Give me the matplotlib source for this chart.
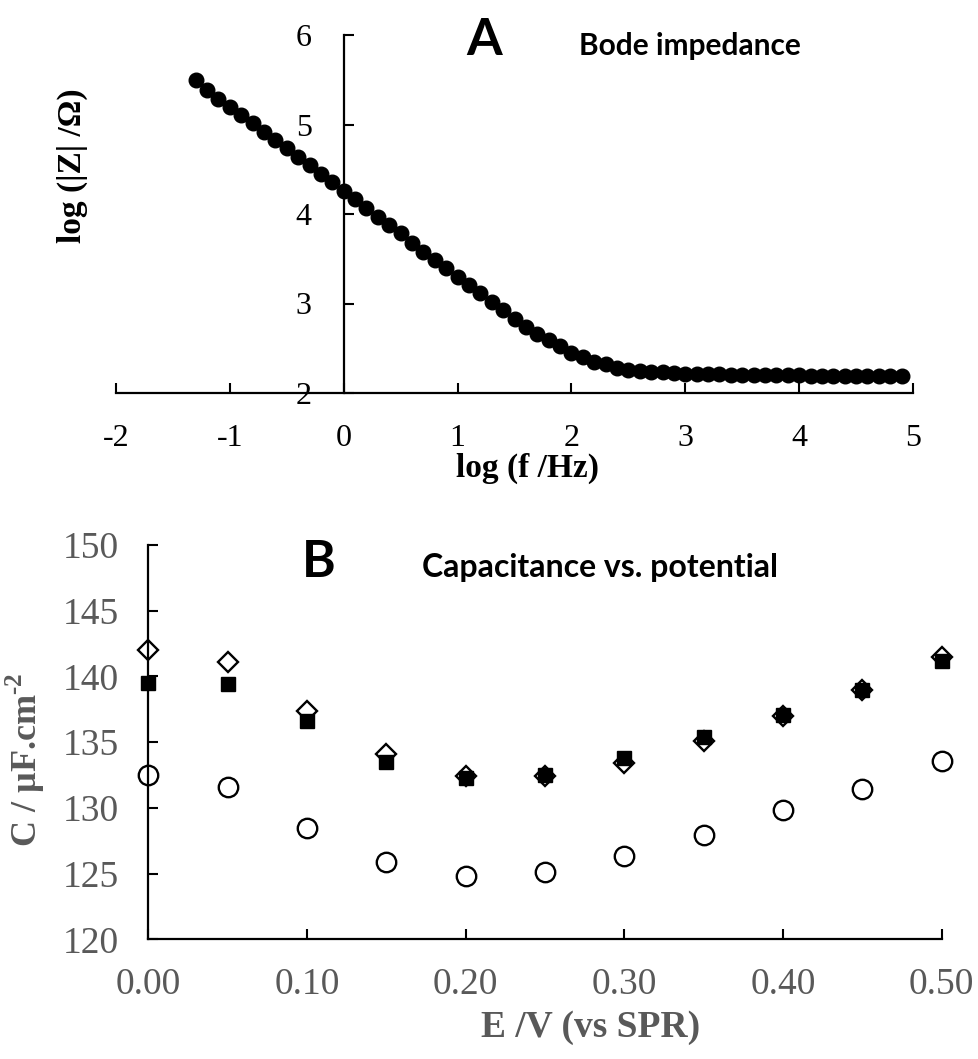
import numpy as np
import matplotlib
matplotlib.use("Agg")
import matplotlib.pyplot as plt

SERIF = "Liberation Serif"
SANS = "Lato"
GREY = "#595959"

# --- panel A: Bode impedance ---
log_f = np.round(np.arange(-1.3, 4.95, 0.1), 1)
log_z = [5.50, 5.39, 5.29, 5.20, 5.11, 5.02, 4.92, 4.83, 4.74, 4.64,
         4.55, 4.45, 4.36, 4.26, 4.17, 4.07, 3.97, 3.88, 3.79, 3.68,
         3.58, 3.49, 3.40, 3.30, 3.21, 3.12, 3.02, 2.93, 2.83, 2.74,
         2.66, 2.59, 2.52, 2.45, 2.40, 2.35, 2.32, 2.28, 2.26, 2.25,
         2.24, 2.23, 2.22, 2.217, 2.214, 2.211, 2.208, 2.206, 2.204, 2.202,
         2.200, 2.198, 2.197, 2.196, 2.195, 2.194, 2.193, 2.192, 2.191, 2.190,
         2.189, 2.188, 2.187]

# --- panel B: capacitance vs potential ---
E = [0.00, 0.05, 0.10, 0.15, 0.20, 0.25, 0.30, 0.35, 0.40, 0.45, 0.50]
C_diamond = [142.0, 141.1, 137.4, 134.1, 132.4, 132.4, 133.4, 135.1, 137.0, 139.0, 141.5]
C_square = [139.5, 139.4, 136.6, 133.5, 132.3, 132.5, 133.8, 135.4, 137.1, 139.0, 141.2]
C_circle = [132.5, 131.6, 128.5, 125.9, 124.8, 125.1, 126.3, 127.9, 129.8, 131.4, 133.6]

plt.rcParams.update({"font.family": SERIF,
                     "mathtext.fontset": "custom",
                     "mathtext.rm": SERIF, "mathtext.bf": SERIF + ":bold"})

W, H = 979, 1059
fig = plt.figure(figsize=(W / 100, H / 100), dpi=100)

def px(x, y):
    return x / W, 1 - y / H

# panel A
axA = fig.add_axes([116 / W, 1 - 393 / H, 797 / W, 358 / H])
axA.plot(log_f, log_z, "o", color="black", ms=10.5, mec="black", clip_on=False)
axA.set_xlim(-2, 5); axA.set_ylim(2, 6)
axA.set_xticks(range(-2, 6)); axA.set_yticks(range(2, 7))
axA.set_xticklabels([str(v) for v in range(-2, 6)])
axA.spines["left"].set_position(("data", 0))
for s in ("top", "right"):
    axA.spines[s].set_visible(False)
for s in ("left", "bottom"):
    axA.spines[s].set_linewidth(1.6)
axA.tick_params(axis="x", direction="in", length=7, width=1.5, labelsize=23, pad=22)
axA.tick_params(axis="y", direction="in", length=7, width=1.5, labelsize=23, pad=23)
axA.set_xlabel("log (f /Hz)", fontsize=24, fontweight="bold")
axA.xaxis.set_label_coords((528 - 116) / 797, (393 - 453) / 358)
axA.set_ylabel("log (|Z| /Ω)", fontsize=24, fontweight="bold")
axA.yaxis.set_label_coords((88 - 116) / 797, (393 - 166) / 358)

fig.text(*px(484, 55), "A", fontsize=37, fontweight="bold", family=SANS, ha="center", va="baseline")
fig.text(*px(690, 55), "Bode impedance", fontsize=21.5, fontweight="bold", family=SANS, ha="center", va="baseline")

# panel B
axB = fig.add_axes([148.3 / W, 1 - 939.3 / H, 793.4 / W, 394.3 / H])
axB.plot(E, C_diamond, "D", ms=10.5, mfc="none", mec="black", mew=1.7, clip_on=False)
axB.plot(E, C_square, "s", ms=10, color="black", clip_on=False)
axB.plot(E, C_circle, "o", ms=14, mfc="none", mec="black", mew=1.7, clip_on=False)
axB.set_xlim(0, 0.5); axB.set_ylim(120, 150)
axB.set_xticks(np.arange(0, 0.51, 0.1)); axB.set_yticks(range(120, 151, 5))
axB.set_xticklabels([f"{v:.2f}" for v in np.arange(0, 0.51, 0.1)])
for s in ("top", "right"):
    axB.spines[s].set_visible(False)
for s in ("left", "bottom"):
    axB.spines[s].set_linewidth(1.6)
axB.tick_params(axis="x", direction="in", length=7.5, width=1.5, labelsize=27, pad=20, labelcolor=GREY)
axB.tick_params(axis="y", direction="in", length=7.5, width=1.5, labelsize=27, pad=21, labelcolor=GREY)
axB.set_xlabel("E /V (vs SPR)", fontsize=27, fontweight="bold", color=GREY)
axB.xaxis.set_label_coords((591 - 148.3) / 793.4, (939.3 - 1010) / 394.3)
axB.set_ylabel("C / µF.cm$^{\\mathbf{\u20102}}$", fontsize=26, fontweight="bold", color=GREY)
axB.yaxis.set_label_coords((47 - 148.3) / 793.4, (939.3 - 760) / 394.3)

fig.text(*px(319, 577), "B", fontsize=37, fontweight="bold", family=SANS, ha="center", va="baseline")
fig.text(*px(600, 577), "Capacitance vs. potential", fontsize=23, fontweight="bold", family=SANS, ha="center", va="baseline")

fig.savefig("out.png", dpi=100, facecolor="white")
